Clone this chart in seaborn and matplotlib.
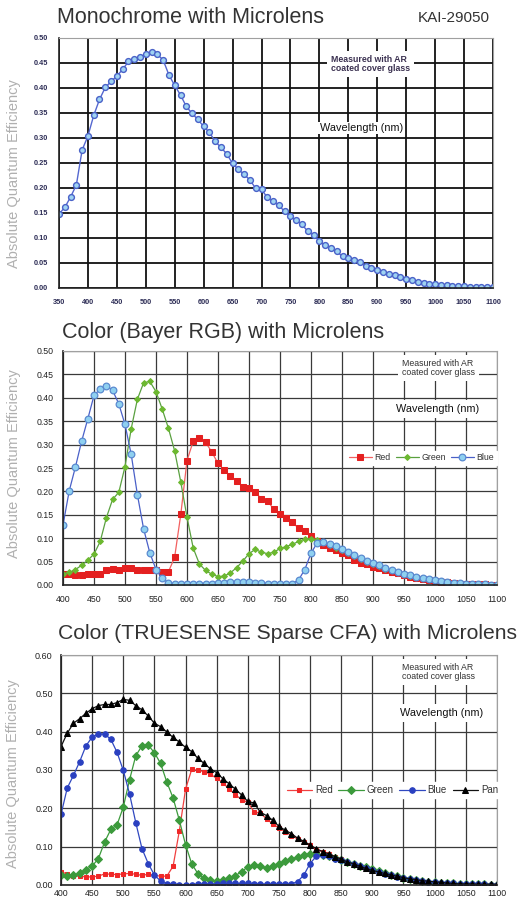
import numpy as np
import matplotlib
matplotlib.use('Agg')
import matplotlib.pyplot as plt
from matplotlib.ticker import MultipleLocator
import seaborn as sns

# wavelengths (nm), 10 nm steps
wl_mono = np.arange(350, 1101, 10)
wl_color = np.arange(400, 1101, 10)

# Monochrome with microlens
mono = [0.148, 0.161, 0.182, 0.206, 0.276, 0.304, 0.345, 0.377, 0.401, 0.413,
        0.424, 0.437, 0.453, 0.458, 0.462, 0.468, 0.472, 0.467, 0.456, 0.426,
        0.405, 0.386, 0.363, 0.349, 0.337, 0.323, 0.311, 0.293, 0.281, 0.268,
        0.249, 0.237, 0.227, 0.216, 0.199, 0.197, 0.181, 0.173, 0.165, 0.153,
        0.143, 0.135, 0.127, 0.113, 0.106, 0.094, 0.085, 0.080, 0.073, 0.063,
        0.059, 0.055, 0.051, 0.044, 0.039, 0.035, 0.031, 0.027, 0.025, 0.021,
        0.018, 0.015, 0.012, 0.010, 0.008, 0.007, 0.005, 0.005, 0.004, 0.003,
        0.003, 0.002, 0.002, 0.002, 0.001, 0.001]

# Bayer RGB
bayer_red = [0.023, 0.023, 0.022, 0.022, 0.023, 0.023, 0.024, 0.032, 0.035, 0.032,
             0.036, 0.037, 0.033, 0.032, 0.032, 0.033, 0.027, 0.028, 0.059, 0.151,
             0.266, 0.307, 0.314, 0.305, 0.284, 0.260, 0.245, 0.233, 0.223, 0.210,
             0.207, 0.199, 0.184, 0.179, 0.162, 0.151, 0.144, 0.134, 0.121, 0.115,
             0.105, 0.095, 0.085, 0.080, 0.074, 0.069, 0.065, 0.054, 0.048, 0.044,
             0.038, 0.036, 0.032, 0.028, 0.025, 0.021, 0.018, 0.015, 0.013, 0.011,
             0.009, 0.007, 0.006, 0.004, 0.003, 0.003, 0.002, 0.002, 0.002, 0.001,
             0.001]
bayer_green = [0.024, 0.027, 0.033, 0.042, 0.053, 0.066, 0.093, 0.144, 0.183, 0.198,
               0.253, 0.334, 0.397, 0.432, 0.435, 0.413, 0.376, 0.335, 0.287, 0.220,
               0.145, 0.079, 0.045, 0.031, 0.023, 0.018, 0.019, 0.026, 0.037, 0.051,
               0.067, 0.076, 0.070, 0.067, 0.070, 0.078, 0.082, 0.087, 0.093, 0.098,
               0.099, 0.097, 0.092, 0.086, 0.080, 0.074, 0.068, 0.062, 0.056, 0.050,
               0.045, 0.040, 0.035, 0.031, 0.027, 0.023, 0.020, 0.017, 0.014, 0.012,
               0.010, 0.008, 0.006, 0.005, 0.004, 0.003, 0.003, 0.002, 0.002, 0.001,
               0.001]
bayer_blue = [0.128, 0.201, 0.252, 0.307, 0.355, 0.405, 0.419, 0.426, 0.416, 0.387,
              0.343, 0.279, 0.193, 0.120, 0.069, 0.033, 0.014, 0.005, 0.002, 0.002,
              0.002, 0.002, 0.002, 0.002, 0.003, 0.004, 0.005, 0.006, 0.006, 0.006,
              0.006, 0.005, 0.004, 0.003, 0.003, 0.002, 0.002, 0.003, 0.011, 0.033,
              0.068, 0.090, 0.091, 0.087, 0.083, 0.076, 0.070, 0.065, 0.058, 0.052,
              0.047, 0.042, 0.037, 0.033, 0.028, 0.024, 0.021, 0.017, 0.014, 0.012,
              0.010, 0.008, 0.007, 0.005, 0.004, 0.003, 0.002, 0.002, 0.002, 0.001,
              0.001]

# TRUESENSE sparse CFA
ts_red = [0.035, 0.028, 0.023, 0.023, 0.021, 0.021, 0.023, 0.029, 0.028, 0.027,
          0.029, 0.030, 0.028, 0.025, 0.028, 0.025, 0.023, 0.023, 0.049, 0.141,
          0.250, 0.302, 0.299, 0.296, 0.289, 0.278, 0.267, 0.250, 0.236, 0.222,
          0.216, 0.191, 0.187, 0.173, 0.159, 0.149, 0.139, 0.129, 0.120, 0.112,
          0.103, 0.092, 0.087, 0.082, 0.074, 0.067, 0.060, 0.054, 0.048, 0.043,
          0.038, 0.033, 0.029, 0.026, 0.022, 0.019, 0.016, 0.013, 0.011, 0.009,
          0.008, 0.006, 0.005, 0.004, 0.003, 0.003, 0.002, 0.002, 0.002, 0.001,
          0.001]
ts_green = [0.025, 0.024, 0.025, 0.031, 0.040, 0.049, 0.069, 0.112, 0.145, 0.157,
            0.203, 0.274, 0.337, 0.363, 0.365, 0.345, 0.317, 0.268, 0.227, 0.169,
            0.105, 0.055, 0.029, 0.017, 0.012, 0.010, 0.012, 0.017, 0.024, 0.035,
            0.047, 0.051, 0.049, 0.044, 0.049, 0.056, 0.062, 0.067, 0.073, 0.078,
            0.082, 0.081, 0.078, 0.075, 0.071, 0.064, 0.060, 0.055, 0.050, 0.048,
            0.041, 0.036, 0.031, 0.027, 0.023, 0.019, 0.016, 0.013, 0.011, 0.009,
            0.007, 0.006, 0.005, 0.004, 0.003, 0.003, 0.002, 0.002, 0.002, 0.001,
            0.001]
ts_blue = [0.184, 0.253, 0.286, 0.322, 0.363, 0.386, 0.394, 0.394, 0.380, 0.346,
           0.299, 0.238, 0.163, 0.095, 0.056, 0.026, 0.010, 0.003, 0.002, 0.001,
           0.001, 0.001, 0.002, 0.002, 0.003, 0.003, 0.004, 0.004, 0.004, 0.004,
           0.004, 0.003, 0.003, 0.002, 0.002, 0.002, 0.002, 0.003, 0.009, 0.026,
           0.056, 0.075, 0.077, 0.075, 0.069, 0.064, 0.059, 0.054, 0.049, 0.043,
           0.038, 0.033, 0.029, 0.025, 0.022, 0.019, 0.016, 0.013, 0.011, 0.009,
           0.008, 0.006, 0.005, 0.004, 0.003, 0.003, 0.002, 0.002, 0.002, 0.001,
           0.001]
ts_pan = [0.361, 0.396, 0.422, 0.434, 0.448, 0.460, 0.468, 0.471, 0.471, 0.476,
          0.484, 0.482, 0.468, 0.457, 0.441, 0.422, 0.413, 0.399, 0.385, 0.373,
          0.359, 0.348, 0.330, 0.317, 0.303, 0.293, 0.277, 0.264, 0.250, 0.235,
          0.218, 0.214, 0.190, 0.181, 0.169, 0.153, 0.143, 0.134, 0.122, 0.114,
          0.104, 0.095, 0.087, 0.081, 0.074, 0.067, 0.060, 0.055, 0.049, 0.043,
          0.038, 0.034, 0.030, 0.026, 0.023, 0.019, 0.016, 0.014, 0.011, 0.010,
          0.008, 0.007, 0.005, 0.004, 0.003, 0.003, 0.003, 0.002, 0.002, 0.002,
          0.002]

sns.set_theme(style="white")
plt.rcParams['font.family'] = ['Liberation Sans', 'DejaVu Sans']

fig = plt.figure(figsize=(5.22, 9.0), dpi=100)
ax1 = fig.add_axes([0.113, 0.68, 0.8314, 0.2778])
ax2 = fig.add_axes([0.1207, 0.35, 0.8314, 0.26])
ax3 = fig.add_axes([0.1169, 0.0167, 0.835, 0.2555])

ylab_color = '#b0b0b0'
ylab_size = 10.5
note_bbox = dict(facecolor='white', edgecolor='none', pad=3)


def style_axes(ax, xlim, ylim, ymajor, yminor, grid_color, grid_lw):
    ax.set_xlim(*xlim)
    ax.set_ylim(*ylim)
    ax.xaxis.set_major_locator(MultipleLocator(50))
    ax.xaxis.set_minor_locator(MultipleLocator(10))
    ax.yaxis.set_major_locator(MultipleLocator(ymajor))
    ax.yaxis.set_minor_locator(MultipleLocator(yminor))
    ax.grid(True, which='major', color=grid_color, linewidth=grid_lw)
    ax.set_axisbelow(True)
    for side in ['top', 'right']:
        ax.spines[side].set_color('#a0a0a0')
        ax.spines[side].set_linewidth(0.8)
    for side in ['left', 'bottom']:
        ax.spines[side].set_color('#222222')
        ax.spines[side].set_linewidth(1.2)
    ax.set_xlabel('')


# ---- Panel 1: monochrome
sns.lineplot(x=wl_mono, y=mono, ax=ax1, color='#5568d0', linewidth=1.0,
             marker='o', markersize=4.2, markerfacecolor='#9fd3f2',
             markeredgecolor='#4a62c8', markeredgewidth=1.0)
style_axes(ax1, (350, 1100), (0, 0.5), 0.05, 0.01, '#111111', 1.3)
ax1.tick_params(axis='both', which='major', direction='out', length=3, width=1,
                labelsize=5.3, labelcolor='#2c2c55', pad=5)
ax1.tick_params(axis='both', which='minor', direction='out', length=2.5, width=1)
for lab in ax1.get_xticklabels() + ax1.get_yticklabels():
    lab.set_fontweight('bold')
ax1.set_yticks(np.arange(0, 0.51, 0.05))
ax1.set_yticklabels([f'{v:.2f}' for v in np.arange(0, 0.51, 0.05)],
                    fontweight='bold')
ax1.set_ylabel('Absolute Quantum Efficiency', fontsize=ylab_size, color=ylab_color)
ax1.yaxis.set_label_coords(-0.088, 0.456)
ax1.text(0.627, 0.897, 'Measured with AR\ncoated cover glass', transform=ax1.transAxes,
         fontsize=6.3, fontweight='bold', color='#3a3050', va='center', ha='left',
         linespacing=1.0, bbox=note_bbox)
ax1.text(0.601, 0.64, 'Wavelength (nm)', transform=ax1.transAxes, fontsize=7.8,
         color='#111111', va='center', ha='left',
         bbox=dict(facecolor='white', edgecolor='none', pad=1))
fig.text(0.109, 0.981, 'Monochrome with Microlens', fontsize=15.5, color='#333333',
         va='center', ha='left')
fig.text(0.939, 0.980, 'KAI-29050', fontsize=11, color='#333333', va='center', ha='right')

# ---- Panel 2: Bayer RGB
sns.lineplot(x=wl_color, y=bayer_red, ax=ax2, color='#f26060', linewidth=0.9,
             marker='s', markersize=4.8, markerfacecolor='#e42020',
             markeredgecolor='#e42020', label='Red')
sns.lineplot(x=wl_color, y=bayer_green, ax=ax2, color='#5aa040', linewidth=0.9,
             marker='D', markersize=3.0, markerfacecolor='#6cb830',
             markeredgecolor='#6cb830', label='Green')
sns.lineplot(x=wl_color, y=bayer_blue, ax=ax2, color='#4a60c8', linewidth=0.9,
             marker='o', markersize=4.8, markerfacecolor='#8fd0f0',
             markeredgecolor='#5a8ad0', markeredgewidth=0.9, label='Blue')
style_axes(ax2, (400, 1100), (0, 0.5), 0.05, 0.01, '#3a3a3a', 0.9)
ax2.tick_params(axis='both', which='major', direction='out', length=3, width=0.8,
                labelsize=6.3, labelcolor='#222222', pad=4)
ax2.tick_params(axis='y', which='minor', direction='out', length=2.5, width=0.8)
ax2.tick_params(axis='x', which='minor', direction='in', length=3, width=0.8)
ax2.set_yticks(np.arange(0, 0.51, 0.05))
ax2.set_yticklabels([f'{v:.2f}' for v in np.arange(0, 0.51, 0.05)])
ax2.set_ylabel('Absolute Quantum Efficiency', fontsize=ylab_size, color=ylab_color)
ax2.yaxis.set_label_coords(-0.097, 0.517)
ax2.text(0.781, 0.927, 'Measured with AR\ncoated cover glass', transform=ax2.transAxes,
         fontsize=6.3, color='#333333', va='center', ha='left', linespacing=1.0,
         bbox=note_bbox)
ax2.text(0.767, 0.752, 'Wavelength (nm)', transform=ax2.transAxes, fontsize=7.8,
         color='#111111', va='center', ha='left', bbox=note_bbox)
leg2 = ax2.legend(loc='center', bbox_to_anchor=(0.826, 0.543), ncol=3, fontsize=6.3,
                  frameon=True, facecolor='white', edgecolor='white', framealpha=1,
                  handlelength=2.6, columnspacing=0.6, handletextpad=0.3,
                  borderpad=0.3, fancybox=False)
for t in leg2.get_texts():
    t.set_color('#333333')
fig.text(0.119, 0.631, 'Color (Bayer RGB) with Microlens', fontsize=15.5,
         color='#333333', va='center', ha='left')

# ---- Panel 3: TRUESENSE sparse CFA
sns.lineplot(x=wl_color, y=ts_red, ax=ax3, color='#f04040', linewidth=0.9,
             marker='s', markersize=3.0, markerfacecolor='#f02828',
             markeredgecolor='#f02828', label='Red')
sns.lineplot(x=wl_color, y=ts_green, ax=ax3, color='#3c9a3c', linewidth=0.9,
             marker='D', markersize=3.6, markerfacecolor='#3c9a3c',
             markeredgecolor='#3c9a3c', label='Green')
sns.lineplot(x=wl_color, y=ts_blue, ax=ax3, color='#3048c0', linewidth=0.9,
             marker='o', markersize=4.0, markerfacecolor='#2a40c0',
             markeredgecolor='#2a40c0', label='Blue')
sns.lineplot(x=wl_color, y=ts_pan, ax=ax3, color='#111111', linewidth=0.9,
             marker='^', markersize=4.0, markerfacecolor='#000000',
             markeredgecolor='#000000', label='Pan')
style_axes(ax3, (400, 1100), (0, 0.6), 0.10, 0.02, '#3a3a3a', 0.9)
ax3.tick_params(axis='y', which='major', direction='out', length=3, width=0.8,
                labelsize=6.5, labelcolor='#222222', pad=3)
ax3.tick_params(axis='x', which='major', direction='out', length=2, width=0.8,
                labelsize=6.3, labelcolor='#222222', pad=1.2)
ax3.tick_params(axis='y', which='minor', direction='out', length=2.5, width=0.8)
ax3.tick_params(axis='x', which='minor', direction='in', length=3, width=0.8)
ax3.set_yticks(np.arange(0, 0.61, 0.10))
ax3.set_yticklabels([f'{v:.2f}' for v in np.arange(0, 0.61, 0.10)])
ax3.set_ylabel('Absolute Quantum Efficiency', fontsize=ylab_size, color=ylab_color)
ax3.yaxis.set_label_coords(-0.093, 0.483)
ax3.text(0.782, 0.926, 'Measured with AR\ncoated cover glass', transform=ax3.transAxes,
         fontsize=6.3, color='#333333', va='center', ha='left', linespacing=1.0,
         bbox=note_bbox)
ax3.text(0.778, 0.748, 'Wavelength (nm)', transform=ax3.transAxes, fontsize=7.8,
         color='#111111', va='center', ha='left', bbox=note_bbox)
leg3 = ax3.legend(loc='center', bbox_to_anchor=(0.760, 0.413), ncol=4, fontsize=7,
                  frameon=True, facecolor='white', edgecolor='white', framealpha=1,
                  handlelength=2.6, columnspacing=0.6, handletextpad=0.3,
                  borderpad=0.3, fancybox=False)
for t in leg3.get_texts():
    t.set_color('#333333')
fig.text(0.111, 0.2956, 'Color (TRUESENSE Sparse CFA) with Microlens', fontsize=15.2,
         color='#333333', va='center', ha='left')

fig.savefig('out.png', dpi=100, facecolor='white')
